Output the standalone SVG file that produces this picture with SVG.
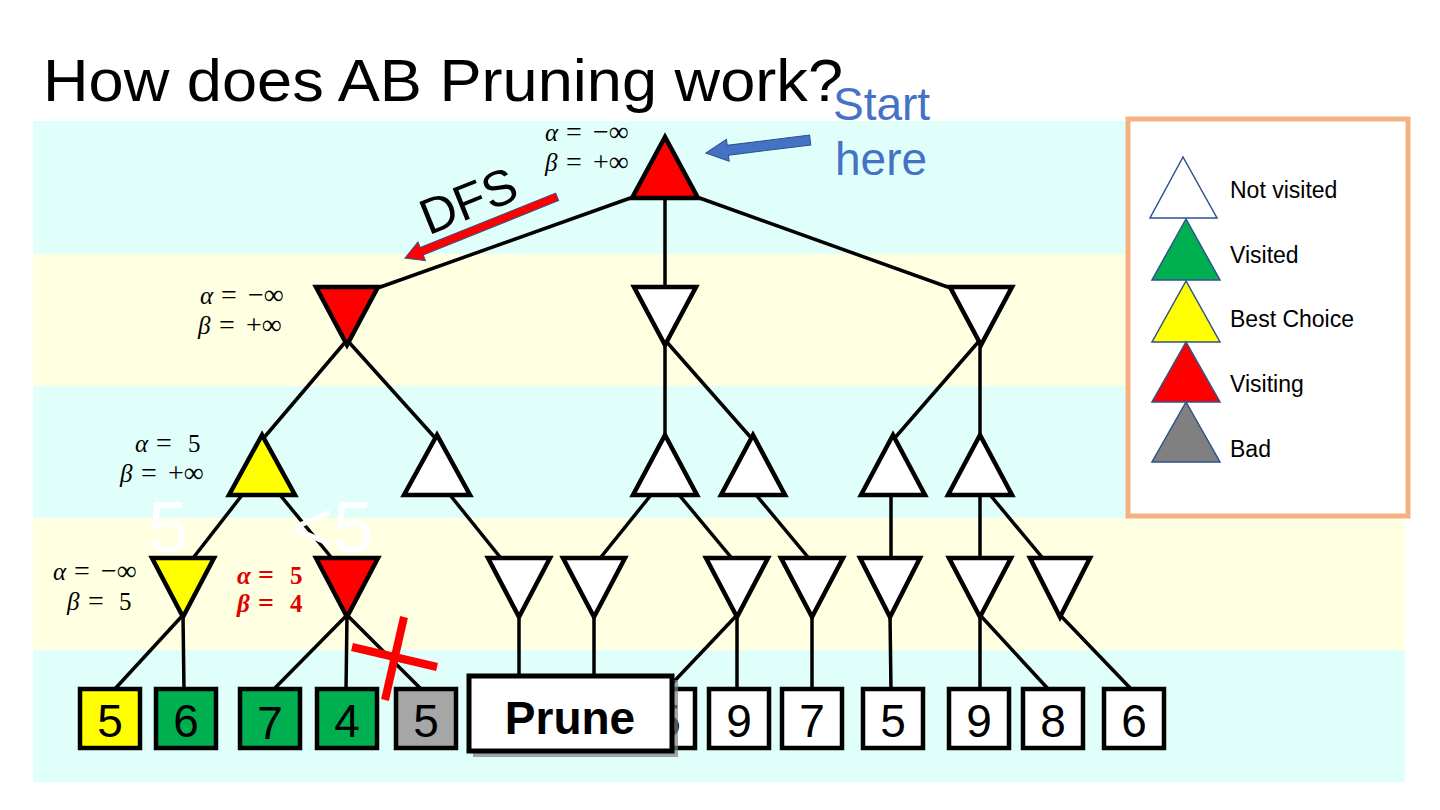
<svg xmlns="http://www.w3.org/2000/svg" width="1440" height="810" viewBox="0 0 1440 810">
<style>
.bc{fill:#E0FFFA}
.by{fill:#FFFFE1}
.edge{stroke:#000;stroke-width:3.5;fill:none}
.tri{stroke:#000;stroke-width:4.5;stroke-linejoin:miter}
.w{fill:#fff}.r{fill:#FF0000}.y{fill:#FFFF00}.g{fill:#00B050}.gr{fill:#A6A6A6}
.leaf rect{stroke:#000;stroke-width:4.5}
.leaf text{font-family:"Liberation Sans",Arial,sans-serif;font-size:46px;text-anchor:middle;fill:#000}
.ab{font-family:"Liberation Serif","DejaVu Serif",serif;font-size:25px;fill:#000}
.abr{font-family:"Liberation Serif","DejaVu Serif",serif;font-size:25px;fill:#E00000;font-weight:bold}
.it{font-style:italic}
.eq{font-size:28px}
.lg path{stroke:#2F528F;stroke-width:1.5}
.lg text{font-family:"Liberation Sans",Arial,sans-serif;font-size:23px;fill:#000}
.big{font-family:"Liberation Sans",Arial,sans-serif;font-size:72px;fill:#fff}
</style>
<rect width="1440" height="810" fill="#fff"/>
<g id="bands">
<rect class="bc" x="33" y="121" width="1372" height="133"/>
<rect class="by" x="33" y="254" width="1372" height="132"/>
<rect class="bc" x="33" y="386" width="1372" height="132"/>
<rect class="by" x="33" y="518" width="1372" height="132"/>
<rect class="bc" x="33" y="650" width="1372" height="132"/>
</g>
<text id="title" x="43" y="101" font-family="'Liberation Sans',Arial,sans-serif" font-size="60" textLength="800" lengthAdjust="spacingAndGlyphs" fill="#000">How does AB Pruning work?</text>
<g id="legend" class="lg">
<rect x="1128" y="119" width="280" height="397" fill="#fff" stroke="#F4B183" stroke-width="5"/>
<path d="M1183,157 L1150,218 L1217,218 Z" fill="#fff"/>
<path d="M1186,219 L1152,280 L1220,280 Z" fill="#00B050"/>
<path d="M1186,281 L1152,342 L1220,342 Z" fill="#FFFF00"/>
<path d="M1186,342 L1152,402 L1220,402 Z" fill="#FF0000"/>
<path d="M1186,402 L1152,462 L1220,462 Z" fill="#808080"/>
<text x="1230" y="198">Not visited</text>
<text x="1230" y="263">Visited</text>
<text x="1230" y="327">Best Choice</text>
<text x="1230" y="392">Visiting</text>
<text x="1230" y="457">Bad</text>
</g>
<g id="connectors" class="edge">
<line x1="636" y1="196" x2="372" y2="290"/>
<line x1="665" y1="190" x2="665" y2="292"/>
<line x1="694" y1="196" x2="956" y2="290"/>
<line x1="347" y1="340" x2="262" y2="440"/>
<line x1="347" y1="340" x2="437" y2="440"/>
<line x1="665" y1="340" x2="665" y2="440"/>
<line x1="665" y1="340" x2="753" y2="440"/>
<line x1="980" y1="340" x2="893" y2="440"/>
<line x1="980" y1="340" x2="980" y2="440"/>
<line x1="246" y1="490" x2="190" y2="562"/>
<line x1="276" y1="490" x2="335" y2="562"/>
<line x1="446" y1="490" x2="504" y2="562"/>
<line x1="655" y1="490" x2="597" y2="562"/>
<line x1="675" y1="490" x2="735" y2="562"/>
<line x1="752" y1="490" x2="812" y2="562"/>
<line x1="891" y1="490" x2="891" y2="562"/>
<line x1="980" y1="490" x2="980" y2="562"/>
<line x1="986" y1="490" x2="1046" y2="562"/>
<line x1="183" y1="615" x2="113" y2="691"/>
<line x1="183" y1="615" x2="184" y2="691"/>
<line x1="347" y1="615" x2="272" y2="691"/>
<line x1="347" y1="615" x2="346" y2="691"/>
<line x1="347" y1="615" x2="423" y2="691"/>
<line x1="519" y1="615" x2="519" y2="677"/>
<line x1="594" y1="615" x2="594" y2="677"/>
<line x1="737" y1="615" x2="665" y2="691"/>
<line x1="737" y1="615" x2="737" y2="691"/>
<line x1="812" y1="615" x2="812" y2="691"/>
<line x1="890" y1="615" x2="891" y2="691"/>
<line x1="980" y1="615" x2="980" y2="691"/>
<line x1="980" y1="615" x2="1050" y2="691"/>
<line x1="1060" y1="615" x2="1133" y2="691"/>
</g>
<g id="white-labels">
<text class="big" x="148" y="552">5</text>
<text class="big" x="291" y="552">&lt;5</text>
</g>
<g id="n-root"><path class="tri r" d="M665,137 L632,198 L698,198 Z"/></g>
<g id="n-L1a"><path class="tri r" d="M316,287 L378,287 L347,345 Z"/></g>
<g id="n-L1b"><path class="tri w" d="M634,287 L696,287 L665,345 Z"/></g>
<g id="n-L1c"><path class="tri w" d="M950,287 L1012,287 L981,345 Z"/></g>
<g id="n-L2a"><path class="tri y" d="M262,435 L229,495 L295,495 Z"/></g>
<g id="n-L2b"><path class="tri w" d="M437,435 L404,495 L470,495 Z"/></g>
<g id="n-L2c"><path class="tri w" d="M665,435 L633,495 L697,495 Z"/></g>
<g id="n-L2d"><path class="tri w" d="M753,435 L721,495 L785,495 Z"/></g>
<g id="n-L2e"><path class="tri w" d="M893,435 L861,495 L925,495 Z"/></g>
<g id="n-L2f"><path class="tri w" d="M980,435 L948,495 L1012,495 Z"/></g>
<g id="n-L3a"><path class="tri y" d="M152,558 L214,558 L183,617 Z"/></g>
<g id="n-L3b"><path class="tri r" d="M316,558 L378,558 L347,617 Z"/></g>
<g id="n-L3c"><path class="tri w" d="M488,558 L550,558 L519,617 Z"/></g>
<g id="n-L3d"><path class="tri w" d="M563,558 L625,558 L594,617 Z"/></g>
<g id="n-L3e"><path class="tri w" d="M706,558 L768,558 L737,617 Z"/></g>
<g id="n-L3f"><path class="tri w" d="M781,558 L843,558 L812,617 Z"/></g>
<g id="n-L3g"><path class="tri w" d="M860,558 L920,558 L890,617 Z"/></g>
<g id="n-L3h"><path class="tri w" d="M949,558 L1011,558 L980,617 Z"/></g>
<g id="n-L3i"><path class="tri w" d="M1030,558 L1090,558 L1060,617 Z"/></g>
<g id="leaf1" class="leaf"><rect class="y" x="80" y="689" width="60" height="59"/><text x="110" y="737">5</text></g>
<g id="leaf2" class="leaf"><rect class="g" x="156" y="689" width="60" height="59"/><text x="186" y="737">6</text></g>
<g id="leaf3" class="leaf"><rect class="g" x="240" y="689" width="60" height="59"/><text x="270" y="739">7</text></g>
<g id="leaf4" class="leaf"><rect class="g" x="317" y="689" width="60" height="59"/><text x="347" y="737">4</text></g>
<g id="leaf5" class="leaf"><rect class="gr" x="396" y="689" width="60" height="59"/><text x="426" y="737">5</text></g>
<g id="leaf6" class="leaf"><rect class="w" x="635" y="689" width="60" height="59"/><text x="668" y="737">5</text></g>
<g id="leaf7" class="leaf"><rect class="w" x="709" y="689" width="60" height="59"/><text x="739" y="737">9</text></g>
<g id="leaf8" class="leaf"><rect class="w" x="782" y="689" width="60" height="59"/><text x="812" y="737">7</text></g>
<g id="leaf9" class="leaf"><rect class="w" x="863" y="689" width="60" height="59"/><text x="893" y="737">5</text></g>
<g id="leaf10" class="leaf"><rect class="w" x="949" y="689" width="60" height="59"/><text x="979" y="737">9</text></g>
<g id="leaf11" class="leaf"><rect class="w" x="1023" y="689" width="60" height="59"/><text x="1053" y="737">8</text></g>
<g id="leaf12" class="leaf"><rect class="w" x="1104" y="689" width="60" height="59"/><text x="1134" y="737">6</text></g>
<g id="prune">
<rect x="473" y="680" width="205" height="77" fill="#7F7F7F" opacity="0.7"/>
<rect x="469" y="676" width="203" height="75" fill="#fff" stroke="#000" stroke-width="5"/>
<text x="570" y="734" font-family="'Liberation Sans',Arial,sans-serif" font-size="46" font-weight="bold" text-anchor="middle" fill="#000">Prune</text>
</g>
<g id="cross" stroke="#FF0000" stroke-width="8" stroke-linecap="butt">
<line x1="404" y1="617" x2="385" y2="700"/>
<line x1="352" y1="647" x2="437" y2="667"/>
</g>
<g id="ab-labels">
<text class="ab" y="141"><tspan class="it" x="545">α</tspan><tspan class="eq" x="566">=</tspan><tspan class="eq" x="593">−∞</tspan></text>
<text class="ab" y="171"><tspan class="it" x="545">β</tspan><tspan class="eq" x="566">=</tspan><tspan class="eq" x="593">+∞</tspan></text>
<text class="ab" y="304"><tspan class="it" x="200">α</tspan><tspan class="eq" x="221">=</tspan><tspan class="eq" x="248">−∞</tspan></text>
<text class="ab" y="334"><tspan class="it" x="198">β</tspan><tspan class="eq" x="219">=</tspan><tspan class="eq" x="246">+∞</tspan></text>
<text class="ab" y="452"><tspan class="it" x="135">α</tspan><tspan class="eq" x="156">=</tspan><tspan x="188">5</tspan></text>
<text class="ab" y="482"><tspan class="it" x="120">β</tspan><tspan class="eq" x="141">=</tspan><tspan class="eq" x="168">+∞</tspan></text>
<text class="ab" y="580"><tspan class="it" x="53">α</tspan><tspan class="eq" x="74">=</tspan><tspan class="eq" x="101">−∞</tspan></text>
<text class="ab" y="610"><tspan class="it" x="67">β</tspan><tspan class="eq" x="88">=</tspan><tspan x="119">5</tspan></text>
<text class="abr" y="584"><tspan class="it" x="237">α</tspan><tspan class="eq" x="258">=</tspan><tspan x="290">5</tspan></text>
<text class="abr" y="612"><tspan class="it" x="237">β</tspan><tspan class="eq" x="258">=</tspan><tspan x="290">4</tspan></text>
</g>
<g id="start">
<text x="833" y="120" font-family="'Liberation Sans',Arial,sans-serif" font-size="46" fill="#4472C4">Start</text>
<text x="835" y="175" font-family="'Liberation Sans',Arial,sans-serif" font-size="46" fill="#4472C4">here</text>
<polygon transform="translate(706,153) rotate(-7.1)" points="0,0 22,-11 22,-5 105,-5 105,5 22,5 22,11" fill="#4472C4" stroke="#2F528F" stroke-width="1"/>
</g>
<g id="dfs">
<text x="468" y="218" transform="rotate(-22 468 200)" font-family="'Liberation Sans',Arial,sans-serif" font-size="50" text-anchor="middle" fill="#000">DFS</text>
<polygon transform="translate(405,258) rotate(-21.9)" points="0,0 18,-10 18,-4 164,-4 164,4 18,4 18,10" fill="#FF0000" stroke="#2F528F" stroke-width="1"/>
</g>
</svg>
